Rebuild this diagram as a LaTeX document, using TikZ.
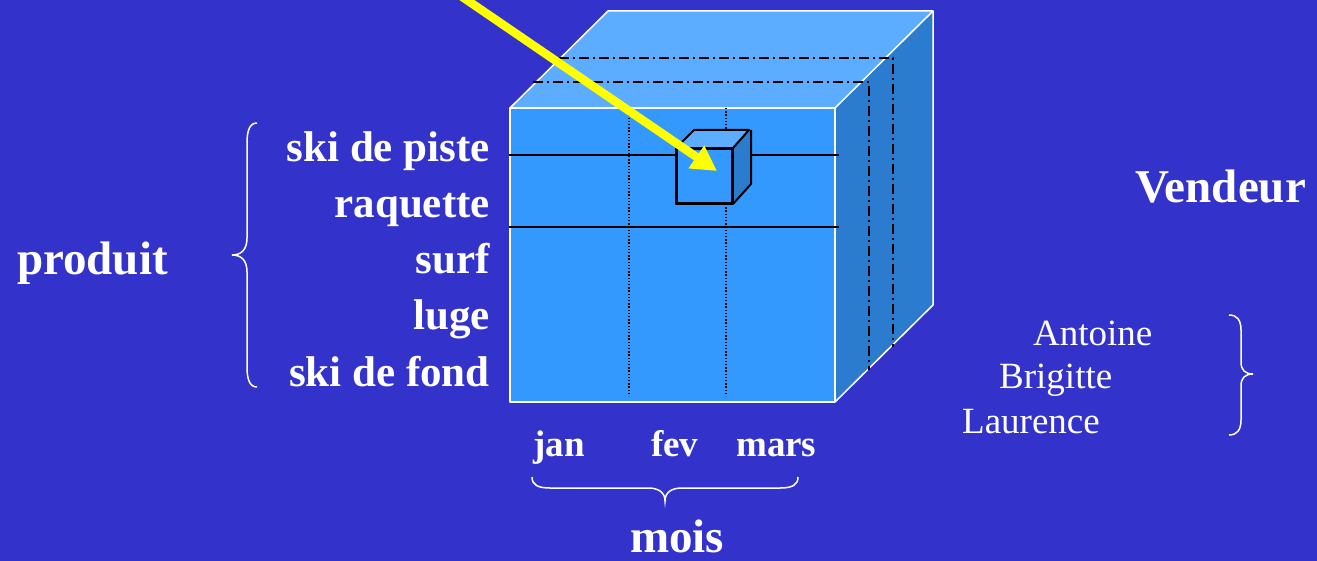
\documentclass[tikz,border=0pt]{standalone}
\usepackage{fontspec}
\setmainfont{Liberation Serif}
\usetikzlibrary{arrows.meta, positioning, calc}
\definecolor{bgblue}{HTML}{3333CC}
\definecolor{frontblue}{HTML}{3399FF}
\definecolor{topblue}{HTML}{5CADFF}
\definecolor{sideblue}{HTML}{2B7BCE}
\definecolor{markyellow}{HTML}{FFFF00}
\tikzset{
    axislabel/.style={text=white, font=\fontsize{47}{50}\selectfont\bfseries, inner sep=0pt},
    itemlabel/.style={text=white, font=\fontsize{43}{46}\selectfont\bfseries, inner sep=0pt},
    monthlabel/.style={text=white, font=\fontsize{37}{40}\selectfont\bfseries, inner sep=0pt},
    namelabel/.style={text=white, font=\fontsize{37}{40}\selectfont, inner sep=0pt},
    cubeedge/.style={draw=white, line width=1.5pt, line join=round},
    cellface/.style={rectangle, draw=black, fill=frontblue, line width=2pt, minimum width=55pt, minimum height=54pt, inner sep=0pt},
    celledge/.style={draw=black, line width=2pt, line join=round},
    rowline/.style={draw=black, line width=1.5pt},
    colline/.style={draw=black, line width=1.4pt, dash pattern=on 1.4pt off 1.8pt},
    sliceline/.style={draw=black, line width=2pt, dash pattern=on 10pt off 4pt on 2pt off 4pt},
    bracket/.style={draw=white, line width=1.5pt},
    pointer/.style={-{Triangle[length=25pt,width=26pt]}, line width=8.5pt, draw=markyellow}
}

\begin{document}
\begin{tikzpicture}[x=1pt, y=-1pt]
    \fill[bgblue] (0,0) rectangle (1317,561);
    \useasboundingbox (0,0) rectangle (1317,561);

    % the cube
    \coordinate (ftl) at (510,108);
    \coordinate (ftr) at (835,108);
    \coordinate (fbr) at (835,402);
    \coordinate (fbl) at (510,402);
    \coordinate (btl) at (608,11);
    \coordinate (btr) at (933,11);
    \coordinate (bbr) at (933,305);
    \fill[frontblue] (ftl) rectangle (fbr);
    \fill[topblue] (ftl) -- (btl) -- (btr) -- (ftr) -- cycle;
    \fill[sideblue] (ftr) -- (btr) -- (bbr) -- (fbr) -- cycle;
    \draw[cubeedge] (ftl) rectangle (fbr);
    \draw[cubeedge] (ftl) -- (btl) -- (btr) -- (ftr);
    \draw[cubeedge] (btr) -- (bbr) -- (fbr);

    % rows, columns and slices
    \draw[rowline] (509,155) -- (839,155);
    \draw[rowline] (509,227) -- (839,227);
    \draw[colline] (629,108) -- (629,396);
    \draw[colline] (726,108) -- (726,396);
    \draw[sliceline] (559,58) -- (893,58) -- (893,347);
    \draw[sliceline] (533,82) -- (869,82) -- (869,370);

    % one cell
    \node[cellface] (cell) at (704.5,176) {};
    \fill[topblue] (cell.north west) -- ++(18,-18) -- ++(55,0) -- (cell.north east) -- cycle;
    \fill[sideblue] (cell.north east) -- ++(18,-18) -- ++(0,54) -- (cell.south east) -- cycle;
    \draw[celledge] (cell.north west) -- ++(18,-18) -- ++(55,0) -- (cell.north east);
    \draw[celledge] ($(cell.north east)+(18,-18)$) -- ++(0,54) -- (cell.south east);
    \draw[celledge] (cell.north west) rectangle (cell.south east);

    \coordinate (source) at (442,-17);
    \coordinate (target) at (717,171);
    \draw[pointer] (source) -- (target);

    % produit
    \foreach \lbl [count=\i] in {ski de piste, raquette, surf, luge, ski de fond}
        \node[itemlabel, anchor=base east] (item\i) at (490,106+56*\i) {\lbl};
    \node[axislabel, anchor=base west] (produit) at (17,275) {produit};
    \draw[bracket] (257,123) .. controls (250,123) and (247,130) .. (247,143) -- (247,238)
        .. controls (247,250) and (241,255) .. (232,255)
        .. controls (241,255) and (247,260) .. (247,272) -- (247,367)
        .. controls (247,380) and (250,387) .. (257,387);

    % mois
    \node[monthlabel, anchor=base west] (jan) at (533,456) {jan};
    \node[monthlabel, anchor=base west] (fev) at (651,456) {fev};
    \node[monthlabel, anchor=base west] (mars) at (736,456) {mars};
    \draw[bracket] (532,477) .. controls (532,485) and (538,488) .. (550,488) -- (648,488)
        .. controls (658,488) and (665,492) .. (665,501)
        .. controls (665,492) and (672,488) .. (682,488) -- (780,488)
        .. controls (792,488) and (798,485) .. (798,477);
    \node[axislabel, anchor=base west] (mois) at (630,552) {mois};

    % vendeur
    \node[axislabel, anchor=base west] (vendeur) at (1135,203) {Vendeur};
    \node[namelabel, anchor=base west] (antoine) at (1033,345) {Antoine};
    \node[namelabel, anchor=base west] (brigitte) at (999,388) {Brigitte};
    \node[namelabel, anchor=base west] (laurence) at (962,433) {Laurence};
    \draw[bracket] (1229,315) .. controls (1237,315) and (1241,320) .. (1241,330) -- (1241,362)
        .. controls (1241,370) and (1245,374) .. (1253,374)
        .. controls (1245,374) and (1241,378) .. (1241,386) -- (1241,420)
        .. controls (1241,430) and (1237,435) .. (1229,435);
\end{tikzpicture}
\end{document}
